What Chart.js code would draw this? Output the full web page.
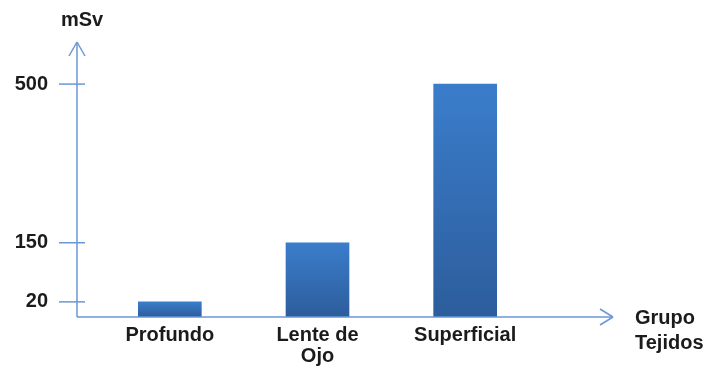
<!DOCTYPE html>
<html>
<head>
<meta charset="utf-8">
<script src="https://cdn.jsdelivr.net/npm/chart.js@4/dist/chart.umd.min.js"></script>
<style>
  html, body { margin: 0; padding: 0; background: #fff; }
  #grafico { width: 716px; height: 371px; }
</style>
</head>
<body>
<div id="grafico"><canvas id="myChart"></canvas></div>
<script>
const categorias = ["Profundo", ["Lente de", "Ojo"], "Superficial"]
const dosis = [20, 150, 500]
const marcasEje = [20, 150, 500]

const colorEje = "#6a97d6"
const colorTexto = "#1b1b1b"
const fuente = "'Liberation Sans', Arial, sans-serif"

// escala por tramos: el eje del dibujo original no es lineal
class EscalaTramos extends Chart.LinearScale {
    decimalDe(v) {
        const t = this.options.tramos
        for (let i = 1; i < t.length; i++) {
            if (v <= t[i][0] || i === t.length - 1) {
                const [v0, d0] = t[i - 1]
                const [v1, d1] = t[i]
                return d0 + (v - v0) / (v1 - v0) * (d1 - d0)
            }
        }
        return 0
    }
    getPixelForValue(value) {
        return this.getPixelForDecimal(this.decimalDe(value))
    }
    getValueForPixel(pixel) {
        const d = this.getDecimalForPixel(pixel)
        const t = this.options.tramos
        for (let i = 1; i < t.length; i++) {
            if (d <= t[i][1] || i === t.length - 1) {
                const [v0, d0] = t[i - 1]
                const [v1, d1] = t[i]
                return v0 + (d - d0) / (d1 - d0) * (v1 - v0)
            }
        }
        return 0
    }
}
EscalaTramos.id = "tramos"
EscalaTramos.defaults = Chart.LinearScale.defaults
Chart.register(EscalaTramos)

function linea(ctx, x1, y1, x2, y2) {
    ctx.beginPath()
    ctx.moveTo(x1, y1)
    ctx.lineTo(x2, y2)
    ctx.stroke()
}

const ejesConFlechas = {
    id: "ejesConFlechas",
    afterDraw(chart) {
        const ctx = chart.ctx
        const area = chart.chartArea
        const ejeX = area.left - 19
        const base = chart.scales.y.getPixelForValue(0)
        ctx.save()
        ctx.strokeStyle = colorEje
        ctx.lineWidth = 1.5
        // eje vertical con flecha
        linea(ctx, ejeX, base, ejeX, area.top)
        linea(ctx, ejeX - 8, area.top + 14, ejeX, area.top)
        linea(ctx, ejeX + 8, area.top + 14, ejeX, area.top)
        // eje horizontal con flecha
        const finX = area.right + 74
        linea(ctx, ejeX, base, finX, base)
        linea(ctx, finX - 13, base - 8, finX, base)
        linea(ctx, finX - 13, base + 8, finX, base)
        // marcas del eje y
        chart.scales.y.ticks.forEach((t) => {
            const y = chart.scales.y.getPixelForValue(t.value)
            linea(ctx, ejeX - 18, y, ejeX + 8, y)
        })
        // textos de los ejes
        ctx.fillStyle = colorTexto
        ctx.font = "bold 20px " + fuente
        ctx.textBaseline = "middle"
        ctx.textAlign = "center"
        ctx.fillText("mSv", ejeX + 5, 20)
        ctx.textAlign = "left"
        ctx.fillText("Grupo", finX + 22, base + 1)
        ctx.fillText("Tejidos", finX + 22, base + 26)
        ctx.restore()
    }
}

const config = {
    type: "bar",
    data: {
        labels: categorias,
        datasets: [
            {
                data: dosis,
                barThickness: 63,
                borderWidth: 0,
                backgroundColor: (c) => {
                    const chart = c.chart
                    if (!chart.chartArea || c.type !== "data") return "#3471bb"
                    const y = chart.scales.y
                    const arriba = y.getPixelForValue(c.parsed.y)
                    const abajo = y.getPixelForValue(0)
                    const g = chart.ctx.createLinearGradient(0, arriba, 0, abajo)
                    g.addColorStop(0, "#3b7dcb")
                    g.addColorStop(1, "#2c5d9c")
                    return g
                }
            }
        ]
    },
    options: {
        responsive: true,
        maintainAspectRatio: false,
        animation: false,
        layout: {
            padding: { left: 0, right: 177, top: 42, bottom: 5 }
        },
        plugins: {
            legend: { display: false },
            tooltip: { enabled: false }
        },
        scales: {
            x: {
                grid: { display: false },
                border: { display: false },
                afterFit: (eje) => {
                    eje.height = 49
                    eje.paddingLeft = 0
                    eje.paddingRight = 0
                },
                ticks: {
                    color: colorTexto,
                    padding: 0,
                    maxRotation: 0,
                    font: { family: fuente, size: 20, weight: "bold", lineHeight: 1.05 }
                }
            },
            y: {
                type: "tramos",
                min: 0,
                max: 600,
                tramos: [[0, 0], [20, 0.055], [150, 0.27], [500, 0.847], [600, 1]],
                grid: { display: false },
                border: { display: false },
                afterBuildTicks: (eje) => {
                    eje.ticks = marcasEje.map((v) => ({ value: v }))
                },
                afterFit: (eje) => {
                    eje.width = 96
                    eje.paddingTop = 0
                    eje.paddingBottom = 0
                },
                ticks: {
                    color: colorTexto,
                    padding: 40,
                    callback: (v) => String(v),
                    font: { family: fuente, size: 20, weight: "bold" }
                }
            }
        }
    },
    plugins: [ejesConFlechas]
}

new Chart(document.getElementById("myChart"), config)
</script>
</body>
</html>
